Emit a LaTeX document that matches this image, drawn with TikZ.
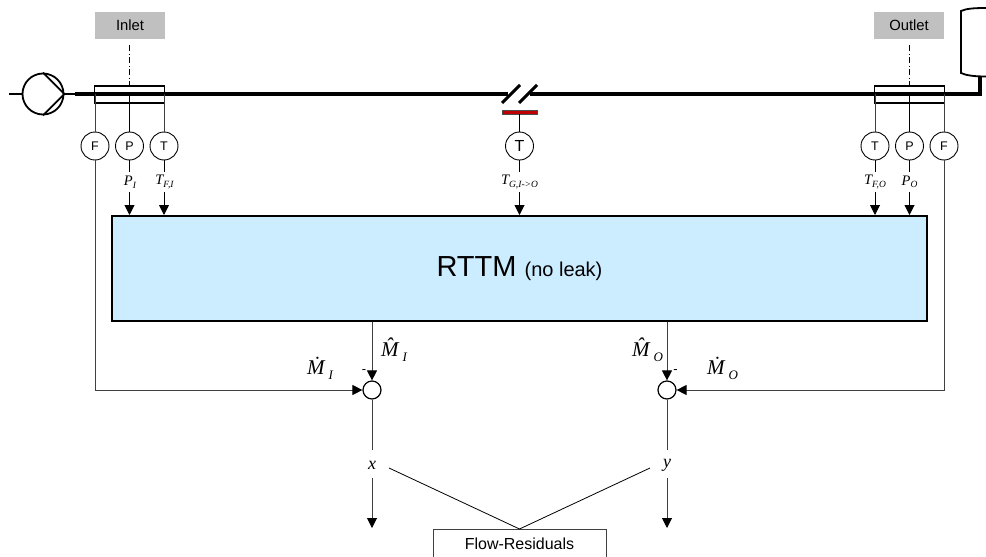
\documentclass[tikz,border=0pt]{standalone}
\usepackage{fontspec}
\setmainfont{Liberation Sans}
\newfontfamily\tms{Liberation Serif}
\usetikzlibrary{arrows.meta,calc}
\definecolor{boxblue}{HTML}{CCECFF}
\definecolor{tagtray}{HTML}{C0C0C0}
\definecolor{barred}{HTML}{C00000}
\definecolor{inkline}{HTML}{404040}
\newcommand{\fs}[1]{\fontsize{#1}{#1}\selectfont}
\newcommand{\lbl}[2]{{\tms\itshape\fs{14.5}#1\raisebox{-2.5pt}{\fs{9.5}#2}}}
\newcommand{\bigM}[2]{{\tms\itshape\fs{21}#1\raisebox{-5pt}{\fs{13}\hspace{4pt}#2}}}
\tikzset{
  x=1pt,y=-1pt,
  tag/.style={fill=tagtray,minimum width=70pt,minimum height=27pt,inner sep=0pt,font=\fs{14.8}},
  inst/.style={circle,draw=black,line width=0.9pt,minimum size=28pt,inner sep=0pt,font=\fs{12.5},fill=white},
  sumc/.style={circle,draw=black,line width=1.2pt,minimum size=18pt,inner sep=0pt,fill=white},
  sig/.style={line width=1pt,draw=inkline},
  arr/.style={sig,-{Triangle[length=10pt,width=10pt,color=black]}},
  lab/.style={inner sep=0pt},
  pipe/.style={line width=3.6pt},
  flange/.style={draw=black,line width=1.1pt,minimum width=69.5pt,minimum height=17pt,inner sep=0pt},
  dashdot/.style={line width=1.6pt,dash pattern=on 6pt off 2.5pt on 1pt off 2.5pt},
}
\begin{document}
\begin{tikzpicture}
\useasboundingbox (0,0) rectangle (986,557);
% coordinates
\coordinate (pl) at (9,94);
\coordinate (pi) at (75,94);
\coordinate (bl) at (508,94);
\coordinate (br) at (530,94);
\coordinate (pe) at (980,94);
% pipe
\node[circle,draw=black,line width=1.8pt,minimum size=41pt,inner sep=0pt] (pump) at (43,94) {};
\draw[line width=1.2pt] (pl) -- (pump.west);
\draw[line width=1.2pt] (pump.east) -- (pi);
\draw[line width=1.8pt] (pump.north) -- (pump.east) -- (pump.south);
\draw[pipe] (pi) -- (bl);
\draw[pipe] (br) -- (pe) [line join=miter] -- (980,76);
% tank
\draw[line width=1.8pt] (986,8) .. controls (975,8) and (966,8.5) .. (961,11) -- (961,73) .. controls (966,75.5) and (975,76.5) .. (986,76.5);
% break
\coordinate (s1a) at (502,103); \coordinate (s1b) at (520,85);
\coordinate (s2a) at (519,103); \coordinate (s2b) at (537,85);
\draw[line width=3pt] (s1a) -- (s1b);
\draw[line width=3pt] (s2a) -- (s2b);
\node[draw=black!70,line width=0.6pt,fill=barred,minimum width=35pt,minimum height=4pt,inner sep=0pt] (bar) at (519.5,112) {};
% flanges and tags
\node[flange] (fi) at (129.5,94.5) {};
\node[flange] (fo) at (909.5,94.5) {};
\node[tag] (inlet) at (130,25.5) {Inlet};
\node[tag] (outlet) at (909,25) {Outlet};
\draw[dashdot] (129.5,45) -- (fi.north);
\draw[dashdot] (909.5,45) -- (fo.north);
% instruments
\node[inst] (fI) at (95,146) {F};
\node[inst] (pI) at (129.5,146) {P};
\node[inst] (tI) at (164,146) {T};
\node[inst,font=\fs{16}] (tG) at (519.5,146) {T};
\node[inst] (tO) at (875,146) {T};
\node[inst] (pO) at (909.5,146) {P};
\node[inst] (fO) at (944,146) {F};
\draw[sig] (95,94) -- (fI);
\draw[sig,draw=black] (129.5,94) -- (pI);
\draw[sig] (164,94) -- (tI);
\draw[sig] (875,94) -- (tO);
\draw[sig,draw=black] (909.5,94) -- (pO);
\draw[sig] (944,94) -- (fO);
\draw[sig,draw=black] (bar) -- (tG);
% RTTM
\node[draw=black,line width=2.6pt,fill=boxblue,minimum width=815pt,minimum height=105pt,inner sep=0pt] (rttm) at (519.5,268.5) {\fs{29}RTTM \fs{20}(no leak)};
% labels
\node[lab] (lPI) at (130,182) {\lbl{P}{I}};
\node[lab] (lTI) at (164.5,182) {\lbl{T}{F,I}};
\node[lab] (lTG) at (519.5,182) {\lbl{T}{G,I->O}};
\node[lab] (lTO) at (875,182) {\lbl{T}{F,O}};
\node[lab] (lPO) at (909.5,182) {\lbl{P}{O}};
\coordinate (a1) at (129.5,172); \coordinate (a1b) at (129.5,192); \coordinate (e1) at (129.5,215);
\coordinate (a2) at (164,172); \coordinate (a2b) at (164,192); \coordinate (e2) at (164,215);
\coordinate (a3) at (519.5,172); \coordinate (a3b) at (519.5,192); \coordinate (e3) at (519.5,215);
\coordinate (a4) at (875,172); \coordinate (a4b) at (875,192); \coordinate (e4) at (875,215);
\coordinate (a5) at (909.5,172); \coordinate (a5b) at (909.5,192); \coordinate (e5) at (909.5,215);
\draw[sig,draw=black] (pI) -- (a1); \draw[arr,draw=black] (a1b) -- (e1);
\draw[sig,draw=black] (tI) -- (a2); \draw[arr,draw=black] (a2b) -- (e2);
\draw[sig,draw=black] (tG) -- (a3); \draw[arr,draw=black] (a3b) -- (e3);
\draw[sig,draw=black] (tO) -- (a4); \draw[arr,draw=black] (a4b) -- (e4);
\draw[sig,draw=black] (pO) -- (a5); \draw[arr,draw=black] (a5b) -- (e5);
% summers
\node[sumc] (sx) at (372,390) {};
\node[sumc] (sy) at (667,390) {};
\coordinate (rx) at (372,322); \coordinate (ry) at (667,322);
\draw[arr] (rx) -- (sx);
\draw[arr] (ry) -- (sy);
\draw[arr] (fI) |- (sx);
\draw[arr] (fO) |- (sy);
\node[lab,font=\fs{13}] at (364,372) {-};
\node[lab,font=\fs{13}] at (675.5,372) {-};
\node[lab,anchor=base west] at (307,374) {\bigM{\.M}{I}};
\node[lab,anchor=base west] at (381,356) {\bigM{\^M}{I}};
\node[lab,anchor=base west] at (632,356) {\bigM{\^M}{O}};
\node[lab,anchor=base west] at (707,374) {\bigM{\.M}{O}};
% residuals
\node[lab] (x) at (372,465) {\tms\itshape\fs{18}x};
\node[lab] (y) at (667,465) {\tms\itshape\fs{18}y};
\coordinate (xt) at (372,450); \coordinate (xb) at (372,478); \coordinate (xe) at (372,528);
\coordinate (yt) at (667,450); \coordinate (yb) at (667,478); \coordinate (ye) at (667,528);
\draw[sig] (sx) -- (xt); \draw[arr] (xb) -- (xe);
\draw[sig] (sy) -- (yt); \draw[arr] (yb) -- (ye);
\node[draw=inkline,line width=0.8pt,fill=white,minimum width=173pt,minimum height=34pt,inner sep=0pt] (res) at (519.5,546) {};
\node[lab,font=\fs{16}] (restext) at (519.5,544) {Flow-Residuals};
\coordinate (cx) at (389,468); \coordinate (cy) at (650,468);
\coordinate (rt) at (519.5,529);
\draw[line width=0.8pt] (cx) -- (rt) -- (cy);
\end{tikzpicture}
\end{document}
